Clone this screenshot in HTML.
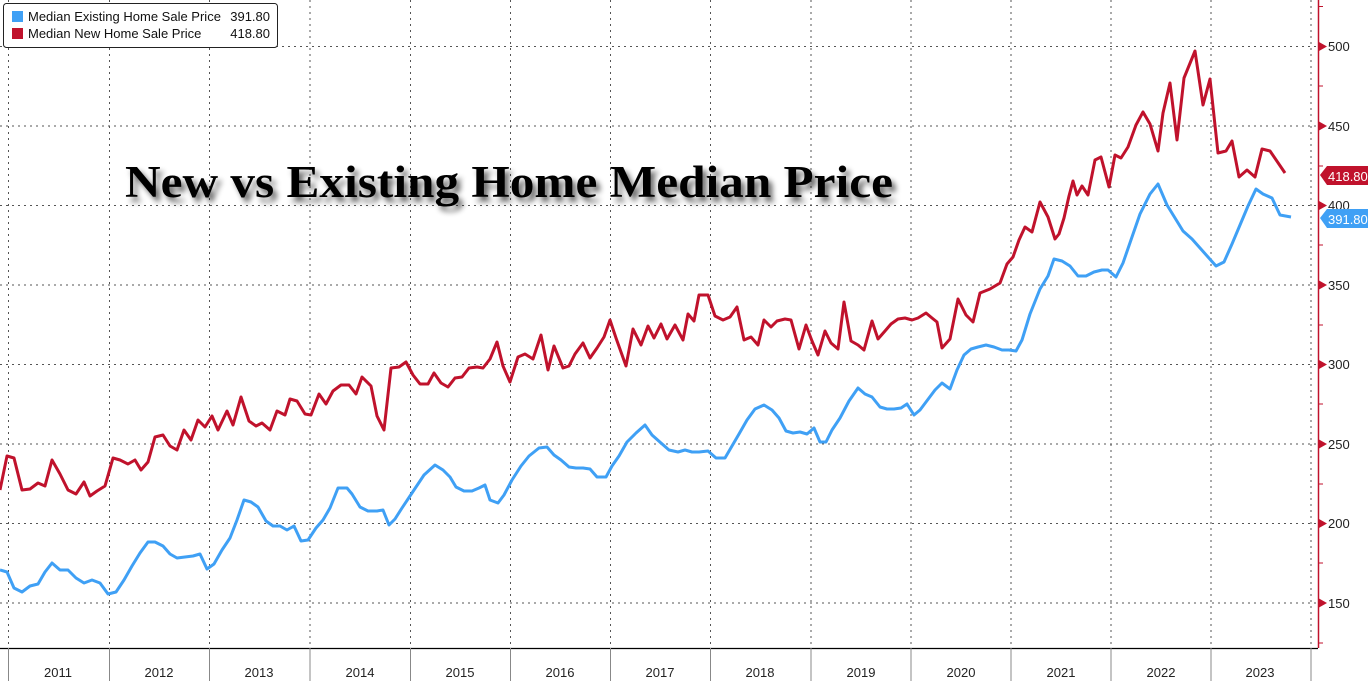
<!DOCTYPE html>
<html><head><meta charset="utf-8"><style>
html,body{margin:0;padding:0;background:#fff;}
svg{display:block;font-family:"Liberation Sans",sans-serif;}
</style></head><body>
<svg width="1368" height="681" viewBox="0 0 1368 681" xmlns="http://www.w3.org/2000/svg">
<defs><filter id="sh" x="-5%" y="-30%" width="110%" height="160%"><feGaussianBlur in="SourceAlpha" stdDeviation="3"/><feOffset dx="4" dy="5"/><feComponentTransfer><feFuncA type="linear" slope="0.6"/></feComponentTransfer><feMerge><feMergeNode/><feMergeNode in="SourceGraphic"/></feMerge></filter></defs>
<rect width="1368" height="681" fill="#fff"/>
<g stroke="#555" stroke-width="1" stroke-dasharray="2,4">
<line x1="0" x2="1318" y1="46.5" y2="46.5"/><line x1="0" x2="1318" y1="126" y2="126"/><line x1="0" x2="1318" y1="205.5" y2="205.5"/><line x1="0" x2="1318" y1="285" y2="285"/><line x1="0" x2="1318" y1="364.5" y2="364.5"/><line x1="0" x2="1318" y1="444" y2="444"/><line x1="0" x2="1318" y1="523.5" y2="523.5"/><line x1="0" x2="1318" y1="603" y2="603"/>
<line x1="8.5" x2="8.5" y1="0" y2="648"/><line x1="109.5" x2="109.5" y1="0" y2="648"/><line x1="209.5" x2="209.5" y1="0" y2="648"/><line x1="310" x2="310" y1="0" y2="648"/><line x1="410.5" x2="410.5" y1="0" y2="648"/><line x1="510.5" x2="510.5" y1="0" y2="648"/><line x1="610.5" x2="610.5" y1="0" y2="648"/><line x1="710.5" x2="710.5" y1="0" y2="648"/><line x1="811" x2="811" y1="0" y2="648"/><line x1="911" x2="911" y1="0" y2="648"/><line x1="1011" x2="1011" y1="0" y2="648"/><line x1="1111" x2="1111" y1="0" y2="648"/><line x1="1211" x2="1211" y1="0" y2="648"/><line x1="1311" x2="1311" y1="0" y2="648"/>
</g>
<line x1="0" x2="1318" y1="648.5" y2="648.5" stroke="#000" stroke-width="1.2"/>
<g stroke="#888" stroke-width="1">
<line x1="8.5" x2="8.5" y1="648" y2="681"/><line x1="109.5" x2="109.5" y1="648" y2="681"/><line x1="209.5" x2="209.5" y1="648" y2="681"/><line x1="310" x2="310" y1="648" y2="681"/><line x1="410.5" x2="410.5" y1="648" y2="681"/><line x1="510.5" x2="510.5" y1="648" y2="681"/><line x1="610.5" x2="610.5" y1="648" y2="681"/><line x1="710.5" x2="710.5" y1="648" y2="681"/><line x1="811" x2="811" y1="648" y2="681"/><line x1="911" x2="911" y1="648" y2="681"/><line x1="1011" x2="1011" y1="648" y2="681"/><line x1="1111" x2="1111" y1="648" y2="681"/><line x1="1211" x2="1211" y1="648" y2="681"/><line x1="1311" x2="1311" y1="648" y2="681"/>
</g>
<g font-size="13" fill="#222" text-anchor="middle">
<text x="58" y="677">2011</text><text x="159" y="677">2012</text><text x="259" y="677">2013</text><text x="360" y="677">2014</text><text x="460" y="677">2015</text><text x="560" y="677">2016</text><text x="660" y="677">2017</text><text x="760" y="677">2018</text><text x="861" y="677">2019</text><text x="961" y="677">2020</text><text x="1061" y="677">2021</text><text x="1161" y="677">2022</text><text x="1260" y="677">2023</text>
</g>
<line x1="1318.5" x2="1318.5" y1="0" y2="648" stroke="#c0122c" stroke-width="1.5"/>
<g fill="#c0122c">
<polygon points="1319,42 1327,46.5 1319,51"/><polygon points="1319,121.5 1327,126 1319,130.5"/><polygon points="1319,201 1327,205.5 1319,210"/><polygon points="1319,280.5 1327,285 1319,289.5"/><polygon points="1319,360 1327,364.5 1319,369"/><polygon points="1319,439.5 1327,444 1319,448.5"/><polygon points="1319,519 1327,523.5 1319,528"/><polygon points="1319,598.5 1327,603 1319,607.5"/>
</g>
<g stroke="#c0122c"><line x1="1318" x2="1323" y1="6.5" y2="6.5"/><line x1="1318" x2="1323" y1="86" y2="86"/><line x1="1318" x2="1323" y1="166" y2="166"/><line x1="1318" x2="1323" y1="245" y2="245"/><line x1="1318" x2="1323" y1="325" y2="325"/><line x1="1318" x2="1323" y1="404" y2="404"/><line x1="1318" x2="1323" y1="484" y2="484"/><line x1="1318" x2="1323" y1="563" y2="563"/><line x1="1318" x2="1323" y1="643" y2="643"/></g>
<g font-size="13" fill="#222">
<text x="1328" y="51">500</text><text x="1328" y="131">450</text><text x="1328" y="210">400</text><text x="1328" y="290">350</text><text x="1328" y="369">300</text><text x="1328" y="449">250</text><text x="1328" y="528">200</text><text x="1328" y="608">150</text>
</g>
<polyline fill="none" stroke="#c0122c" stroke-width="3" stroke-linejoin="round" points="0,490 7,456 14,458 22,490 30,489 38,483 45,486 52,460 60,474 68,490 76,494 84,482 90,496 97,491 105,486 113,458 120,460 128,464 135,460 141,470 148,462 155,437 163,435 170,446 177,450 184,430 191,440 198,420 205,427 212,416 218,430 227,411 233,425 241,397 249,421 256,426 262,423 270,430 277,411 285,415 290,399 297,401 305,414 311,415 319,394 326,404 333,391 341,385 349,385 356,394 362,377 371,386 377,416 384,430 391,368 399,367 406,362 413,375 420,384 428,384 434,373 441,383 448,387 455,378 462,377 469,368 477,367 483,368 490,359 497,342 503,366 510,382 518,357 525,354 533,359 541,335 548,370 554,346 563,368 569,366 575,354 583,343 590,358 597,348 604,337 610,320 616,338 626,366 633,329 641,345 648,326 654,338 661,324 667,339 675,325 683,340 688,314 694,321 699,295 708,295 715,316 723,320 730,317 737,307 744,340 751,337 758,345 764,320 771,327 777,321 785,319 791,320 799,349 806,325 812,341 818,355 825,331 831,343 838,349 844,302 851,341 858,345 864,350 872,321 878,339 885,331 891,324 898,319 905,318 912,320 918,318 926,313 932,318 937,322 942,348 950,339 958,299 966,315 973,322 980,293 990,289 1000,283 1007,264 1013,257 1019,240 1025,227 1032,232 1040,202 1048,217 1055,239 1059,234 1064,218 1069,196 1073,181 1077,195 1082,186 1088,195 1095,160 1101,157 1109,187 1115,155 1121,158 1128,147 1136,125 1143,112 1150,124 1158,151 1163,113 1170,83 1177,140 1184,78 1195,51 1203,105 1210,79 1218,153 1226,151 1232,141 1239,177 1247,170 1255,177 1262,149 1270,151 1285,173"/>
<polyline fill="none" stroke="#3fa0f5" stroke-width="3" stroke-linejoin="round" points="0,570 7,572 14,588 22,592 30,586 38,584 45,572 52,563 60,570 68,570 76,578 84,583 92,580 100,583 108,594 116,592 124,580 132,566 140,553 148,542 155,542 163,546 170,554 177,558 185,557 193,556 200,554 207,569 214,564 222,550 230,538 237,520 244,500 251,502 258,507 266,521 273,526 280,526 287,530 294,526 301,541 308,540 316,528 323,520 330,508 338,488 347,488 352,494 360,507 368,511 377,511 383,510 389,525 395,519 402,508 410,496 418,484 424,475 435,465 443,470 450,477 456,487 464,491 472,491 479,488 485,485 490,500 498,503 504,495 512,480 521,466 529,456 539,448 547,447 554,455 561,460 569,467 576,468 583,468 590,469 597,477 606,477 612,466 619,456 627,442 636,433 645,425 652,435 661,443 669,450 678,452 685,450 692,452 699,452 708,451 716,458 725,458 732,446 739,434 747,420 755,409 764,405 772,410 779,418 786,431 793,433 800,432 807,434 814,428 820,442 826,442 832,430 840,418 849,401 858,388 865,394 872,397 880,407 887,409 894,409 901,408 907,404 914,415 920,410 926,402 935,390 942,383 950,389 957,370 964,355 971,349 978,347 986,345 994,347 1002,350 1009,350 1016,351 1022,340 1030,314 1040,289 1048,276 1054,259 1062,261 1070,266 1078,276 1086,276 1094,272 1102,270 1108,270 1116,277 1123,263 1132,237 1140,214 1150,194 1158,184 1167,205 1175,218 1183,231 1192,239 1200,248 1208,257 1216,266 1224,262 1232,244 1240,225 1248,206 1256,189 1263,194 1272,198 1280,215 1291,217"/>
<polygon points="1320,175 1327,166 1368,166 1368,185 1327,185" fill="#c0122c"/>
<text x="1328" y="181" font-size="13" fill="#fff">418.80</text>
<polygon points="1320,218 1327,209 1368,209 1368,228 1327,228" fill="#3fa0f5"/>
<text x="1328" y="224" font-size="13" fill="#fff">391.80</text>
<rect x="3.5" y="3.5" width="274" height="44" rx="3" fill="#fff" stroke="#222" stroke-width="1"/>
<rect x="12" y="11" width="11" height="11" fill="#3fa0f5"/>
<rect x="12" y="28" width="11" height="11" fill="#c0122c"/>
<g font-size="13" fill="#111">
<text x="28" y="21">Median Existing Home Sale Price</text><text x="270" y="21" text-anchor="end">391.80</text>
<text x="28" y="38">Median New Home Sale Price</text><text x="270" y="38" text-anchor="end">418.80</text>
</g>
<text x="125" y="197" font-family="'Liberation Serif',serif" font-weight="bold" font-size="45" fill="#000" filter="url(#sh)" textLength="768" lengthAdjust="spacingAndGlyphs">New vs Existing Home Median Price</text>
</svg>
</body></html>
